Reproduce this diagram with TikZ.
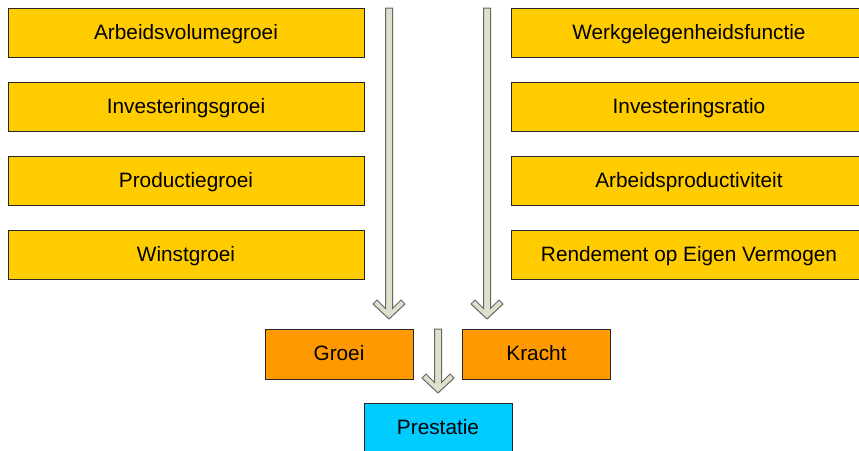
\documentclass[tikz,border=0pt]{standalone}
\usepackage{fontspec}
\setmainfont{Liberation Sans}
\usetikzlibrary{calc}

\definecolor{boxyellow}{HTML}{FFCC00}
\definecolor{boxorange}{HTML}{FF9900}
\definecolor{boxcyan}{HTML}{00CCFF}
\definecolor{arrowfill}{HTML}{DDE1CB}

\newcommand\blockarrow[2]{%
  \path let \p1=(#1), \p2=(#2) in
  [flow] (\x1-3.5pt,\y1) -- (\x1+3.5pt,\y1) -- (\x2+3.5pt,\y2+10.5pt)
  -- (\x2+12pt,\y2+19pt) -- (\x2+16pt,\y2+15pt) -- (\x2,\y2)
  -- (\x2-16pt,\y2+15pt) -- (\x2-12pt,\y2+19pt) -- (\x2-3.5pt,\y2+10.5pt) -- cycle;}

\begin{document}
\begin{tikzpicture}
[x=1pt,y=-1pt,
 factor/.style={rectangle,draw=black!85,line width=1pt,fill=boxyellow,
   minimum width=356pt,minimum height=49pt,inner sep=0pt,
   text height=15pt,text depth=2pt,font=\fontsize{20.8}{25}\selectfont},
 result/.style={factor,fill=boxorange,minimum width=148pt,minimum height=50pt},
 final/.style={result,fill=boxcyan},
 flow/.style={draw=black!60,line width=1pt,fill=arrowfill,line join=miter}]

\useasboundingbox (0,0) rectangle (859,450);

\node (avg) at (186,32.5) [factor] {Arbeidsvolumegroei};
\node (ig) at (186,106.5) [factor] {Investeringsgroei};
\node (pg) at (186,180.5) [factor] {Productiegroei};
\node (wg) at (186,254.5) [factor] {Winstgroei};

\node (wf) at (689,32.5) [factor] {Werkgelegenheidsfunctie};
\node (ir) at (689,106.5) [factor] {Investeringsratio};
\node (ap) at (689,180.5) [factor] {Arbeidsproductiviteit};
\node (rev) at (689,254.5) [factor] {Rendement op Eigen Vermogen};

\node (groei) at (339,354) [result] {Groei};
\node (kracht) at (536.5,354) [result] {Kracht};
\node (prestatie) at (438,428) [final] {Prestatie};

\coordinate (g top) at (389,8);
\coordinate (g end) at (389,319);
\coordinate (k top) at (487,8);
\coordinate (k end) at (487,319);
\coordinate (p top) at (438,329);
\coordinate (p end) at (438,393);

\blockarrow{g top}{g end}
\blockarrow{k top}{k end}
\blockarrow{p top}{p end}
\end{tikzpicture}
\end{document}
